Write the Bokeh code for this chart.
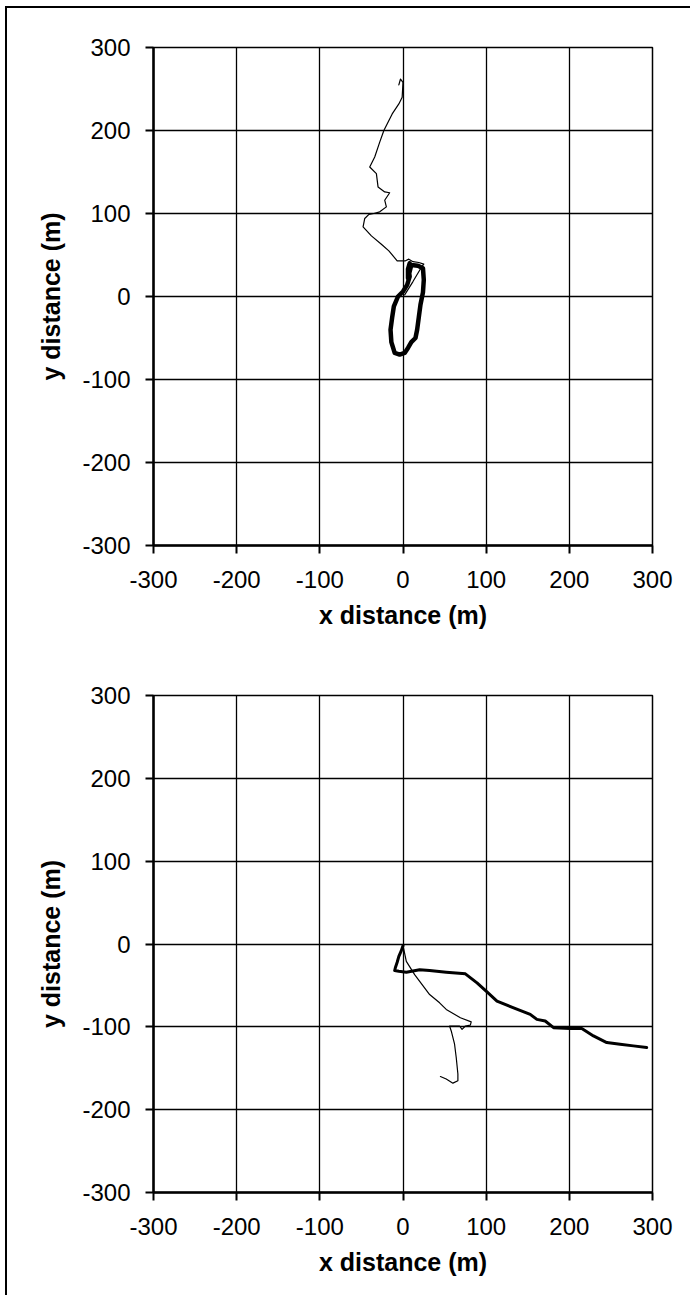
from bokeh.plotting import figure
from bokeh.layouts import column
from bokeh.models import Range1d, FixedTicker
from bokeh.embed import file_html
from bokeh.resources import INLINE

ticks = [-300, -200, -100, 0, 100, 200, 300]
tick_labels = ["-300", "-200", "-100", "0", "100", "200", "300"]

# Top panel: thin track
top_thin_x = [-5, -3, 0, -1, -5, -13, -23, -28, -34, -40, -32, -30, -22, -16, -22, -20, -28, -35, -41,
              -46, -48, -38, -26, -17, -7, 3, 7, 12, 19, 25, 22, 12, 2]
top_thin_y = [255, 262, 258, 240, 232, 220, 200, 186, 168, 156, 148, 132, 126, 125, 116, 108, 102, 100, 99,
              94, 84, 73, 63, 55, 43, 43, 45, 42, 41, 39, 35, 18, 2]
# Top panel: thick track
top_thick_x = [8, 6, 6, 10, 18, 24, 25, 24, 21, 19, 17, 15, 10, 6, 2, -4, -10, -14, -15, -13, -11, -6,
               0, 5, 8, 7, 8]
top_thick_y = [40, 33, 22, 38, 37, 34, 20, 5, -10, -25, -40, -50, -55, -62, -68, -70, -68, -55, -40, -25,
               -12, 0, 6, 14, 24, 32, 40]

# Bottom panel: thin track
bot_thin_x = [0, 4, 14, 32, 44, 52, 69, 82, 81, 75, 71, 68, 56, 58, 62, 64, 66, 66, 60, 52, 45]
bot_thin_y = [-2, -21, -37, -61, -71, -79, -89, -94, -98, -99, -103, -99, -99, -105, -121, -137, -157,
              -165, -168, -163, -160]
# Bottom panel: thick track
bot_thick_x = [0, -2, -5, -7, -9, -10, -5, 4, 20, 32, 52, 75, 89, 100, 113, 133, 153, 161, 171, 181, 201,
               215, 229, 245, 261, 277, 293]
bot_thick_y = [-2, -8, -15, -22, -28, -32, -33, -34, -31, -32, -34, -36, -47, -57, -69, -77, -85, -91,
               -93, -101, -102, -102, -111, -119, -121, -123, -125]

FONT = "Liberation Sans"


def make_panel(h, top, bottom, lines):
    p = figure(width=683, height=h, output_backend="svg", toolbar_location=None,
               x_range=Range1d(-300, 300), y_range=Range1d(-300, 300),
               min_border_left=146, min_border_right=38, min_border_top=top, min_border_bottom=bottom)
    p.outline_line_color = "black"
    p.outline_line_width = 1.5
    p.background_fill_color = "white"
    p.border_fill_color = "white"
    for ax in (p.xaxis[0], p.yaxis[0]):
        ax.ticker = FixedTicker(ticks=ticks)
        ax.major_label_overrides = dict(zip(ticks, tick_labels))
        ax.axis_line_color = "black"
        ax.axis_line_width = 2.5
        ax.major_tick_line_color = "black"
        ax.major_tick_line_width = 2
        ax.major_tick_out = 8
        ax.major_tick_in = 0
        ax.minor_tick_line_color = None
        ax.major_label_text_font = FONT
        ax.major_label_text_font_size = "24px"
        ax.major_label_text_color = "black"
        ax.axis_label_text_font = FONT
        ax.axis_label_text_font_size = "25px"
        ax.axis_label_text_font_style = "bold"
        ax.axis_label_text_color = "black"
    p.xaxis.axis_label = "x distance (m)"
    p.yaxis.axis_label = "y distance (m)"
    p.xaxis.major_label_standoff = 17
    p.yaxis.major_label_standoff = 15
    p.xaxis.axis_label_standoff = 10
    p.yaxis.axis_label_standoff = 14
    for g in (p.xgrid[0], p.ygrid[0]):
        g.ticker = FixedTicker(ticks=ticks)
        g.grid_line_color = "black"
        g.grid_line_width = 1.3
    for xs, ys, w in lines:
        p.line(xs, ys, line_color="black", line_width=w, line_join="round", line_cap="round")
    return p


p1 = make_panel(642, 39, 105, [(top_thin_x, top_thin_y, 1.2), (top_thick_x, top_thick_y, 4.5)])
p2 = make_panel(645, 45, 103, [(bot_thin_x, bot_thin_y, 1.2), (bot_thick_x, bot_thick_y, 3)])

layout = column(p1, p2, styles={"border-top": "2px solid black", "border-left": "2px solid black",
                                "margin-left": "5px", "margin-top": "6px"})

open("out.html", "w").write(file_html(layout, INLINE))
